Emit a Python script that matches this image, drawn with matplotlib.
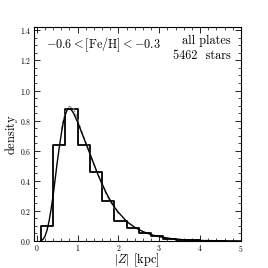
import matplotlib
matplotlib.use('Agg')
import matplotlib.pyplot as plt
from matplotlib.ticker import MultipleLocator

plt.rcParams['font.family'] = 'serif'
plt.rcParams['font.serif'] = ['cmr10', 'DejaVu Serif']
plt.rcParams['mathtext.fontset'] = 'cm'
plt.rcParams['axes.formatter.use_mathtext'] = True

# histogram (bin edges and densities)
binEdges = [0.1, 0.4, 0.7, 1.0, 1.3, 1.6, 1.9, 2.2, 2.5, 2.8, 3.1, 3.4, 3.7, 4.0, 4.3, 4.6]
binDensity = [0.10, 0.64, 0.88, 0.64, 0.455, 0.265, 0.13, 0.085, 0.052, 0.030, 0.015, 0.007, 0.004, 0.002, 0.001]

# fitted model curve
fitZ = [0.1, 0.15, 0.2, 0.25, 0.3, 0.35, 0.4, 0.45, 0.5, 0.55, 0.6, 0.65, 0.7, 0.75, 0.8,
        0.85, 0.9, 0.95, 1.0, 1.1, 1.2, 1.3, 1.4, 1.5, 1.6, 1.7, 1.8, 1.9, 2.0, 2.2,
        2.4, 2.6, 2.8, 3.0, 3.3, 3.6, 4.0, 4.5, 5.0]
fitDensity = [0.0, 0.01, 0.03, 0.07, 0.13, 0.21, 0.30, 0.41, 0.52, 0.62, 0.71, 0.79, 0.84, 0.875, 0.88,
              0.87, 0.85, 0.82, 0.79, 0.72, 0.65, 0.58, 0.51, 0.44, 0.38, 0.32, 0.27, 0.225, 0.19, 0.13,
              0.09, 0.062, 0.042, 0.028, 0.015, 0.008, 0.003, 0.001, 0.0003]

# second (dashed) model curve
dashZ = [0.6, 0.7, 0.8, 0.9, 1.0, 1.1, 1.2, 1.3, 1.4, 1.5, 1.6, 1.7, 1.8, 2.0]
dashDensity = [0.74, 0.86, 0.895, 0.88, 0.81, 0.73, 0.66, 0.585, 0.51, 0.44, 0.37, 0.31, 0.26, 0.18]

fig = plt.figure(figsize=(2.68, 2.68), dpi=100)
ax = fig.add_axes([0.125, 0.101, 0.774, 0.797])

# histogram as steps
stepX = [binEdges[0]]
stepY = [0.0]
for i in range(len(binDensity)):
    stepX += [binEdges[i], binEdges[i + 1]]
    stepY += [binDensity[i], binDensity[i]]
stepX.append(binEdges[-1])
stepY.append(0.0)
ax.plot(stepX, stepY, color='black', lw=1.3)

ax.plot(dashZ, dashDensity, color='0.55', lw=0.8, ls='--')
ax.plot(fitZ, fitDensity, color='black', lw=1.0)

ax.set_xlim(-0.08, 5)
ax.set_ylim(0, 1.42)
ax.xaxis.set_major_locator(MultipleLocator(1))
ax.xaxis.set_minor_locator(MultipleLocator(0.2))
ax.yaxis.set_major_locator(MultipleLocator(0.2))
ax.yaxis.set_minor_locator(MultipleLocator(0.05))
ax.tick_params(which='both', direction='in', top=True, right=True, labelsize=5.5, pad=1.5)
ax.tick_params(which='major', length=4, width=0.6)
ax.tick_params(which='minor', length=2, width=0.5)
for s in ax.spines.values():
    s.set_linewidth(0.8)

ax.set_xlabel(r'$|Z|\ \mathrm{[kpc]}$', fontsize=9, labelpad=-1.5)
ax.set_ylabel(r'$\mathrm{density}$', fontsize=9, labelpad=0)

ax.text(0.06, 0.92, r'$-0.6 < \mathrm{[Fe/H]} < -0.3$', transform=ax.transAxes,
        fontsize=8.8, ha='left', va='center')
ax.text(0.95, 0.935, 'all plates', transform=ax.transAxes,
        fontsize=8.8, ha='right', va='center')
ax.text(0.95, 0.865, '5462  stars', transform=ax.transAxes,
        fontsize=8.8, ha='right', va='center')

fig.savefig('out.png', dpi=100)
